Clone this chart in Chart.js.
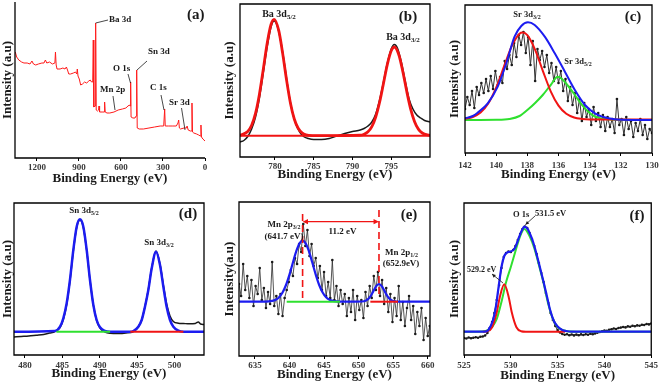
<!DOCTYPE html>
<html>
<head>
<meta charset="utf-8">
<script src="https://cdn.jsdelivr.net/npm/chart.js@4.4.1/dist/chart.umd.min.js"></script>
<style>
  body { margin: 0; background: #fff; }
  #fig { position: relative; width: 660px; height: 385px; }
  #fig canvas { position: absolute; }
</style>
</head>
<body>
<div id="fig">
  <canvas id="pa" width="215" height="190" style="left:0;top:0"></canvas>
  <canvas id="pb" width="225" height="190" style="left:215px;top:0"></canvas>
  <canvas id="pc" width="220" height="190" style="left:440px;top:0"></canvas>
  <canvas id="pd" width="215" height="195" style="left:0;top:190px"></canvas>
  <canvas id="pe" width="225" height="195" style="left:215px;top:190px"></canvas>
  <canvas id="pf" width="220" height="195" style="left:440px;top:190px"></canvas>
</div>
<script>
// ---- data: [binding energy (eV), intensity (a.u.)] ----

// (a) survey
const aSurvey = [[1355,106],[1345,101],[1330,98],[1310,96],[1293,95],[1270,95],[1250,94],[1236,97],[1225,94],[1209,93],[1190,94],[1165,95],[1150,95],[1140,98],[1130,95],[1110,96],[1090,94],[1072,95],[1068,106],[1063,93],[1057,89],[1035,89],[1015,90],[1000,89],[990,91],[982,88],[973,84],[960,84],[940,85],[925,86],[916,84],[912,89],[907,82],[898,79],[888,73],[875,74],[860,76],[845,75],[830,77],[820,78],[810,76],[802,76],[798,118],[794,51],[785,52],[781,135],[777,48],[768,47],[760,48],[757,52],[753,46],[735,46],[720,46],[717,56],[713,46],[700,45],[680,45],[650,46],[620,48],[590,49],[565,50],[550,52],[540,53],[535,52],[531,76],[528,41],[515,40],[500,40],[492,42],[488,88],[484,30],[470,29],[440,29],[400,30],[360,31],[320,32],[295,32],[288,49],[284,32],[260,32],[230,32],[205,32],[193,35],[188,38],[183,30],[175,29],[150,30],[132,30],[128,32],[120,28],[105,27],[97,27],[93,55],[89,26],[80,25],[60,24],[45,23],[33,22],[29,33],[25,21],[15,19],[0,17]];
const aTicks = [0, 300, 600, 900, 1200];

// (b) Ba 3d
const bData = [[775.5,15],[776,16.5],[776.5,20.5],[777,28],[777.5,40],[778,59],[778.5,84],[779,110],[779.5,130],[779.9,136],[780.3,131],[780.7,118],[781.2,95],[781.7,68],[782.2,47],[782.7,33],[783.2,25],[783.7,20.5],[784.3,18.5],[785,17.5],[786,17.5],[787,18.5],[788,21],[789,23.5],[790,25.5],[791,27],[791.5,28.5],[792,31],[792.5,35],[793,43],[793.5,57],[794,75],[794.5,94],[795,108],[795.4,112.5],[795.8,109],[796.3,95],[796.8,76],[797.3,58],[797.8,48],[798.3,42],[798.8,39],[799.3,36.5],[800,35]];
const bFit = [[775.5,21.8],[776.5,25.5],[777,31.7],[777.5,43.6],[778,62.6],[778.5,87.6],[779,113.6],[779.5,132.5],[779.9,137.7],[780.5,126.3],[781,103.6],[781.5,77.1],[782,54.1],[782.5,38],[783,28.7],[783.5,24.1],[784,22.2],[785,21.4],[786,21.3],[791,21.8],[791.5,22.8],[792,25.2],[792.5,30.4],[793,40],[793.5,54.7],[794,73.5],[794.5,92.6],[795,106.2],[795.4,110],[796,101.8],[796.5,85.3],[797,65.7],[797.5,48.2],[798,35.6],[798.5,27.9],[799,24],[800,21.6]];
const bBase = [[775.5,21.3],[800,21.3]];
const bTicks = [780, 785, 790, 795];

// (c) Sr 3d
const cData = [[142,44],[141.85,56],[141.7,48],[141.55,62],[141.4,45],[141.25,66],[141.1,58],[140.95,70],[140.8,60],[140.65,74],[140.5,62],[140.35,77],[140.2,64],[140.05,82],[139.9,68],[139.75,76],[139.6,70],[139.45,92],[139.3,84],[139.15,98],[139,88],[138.85,110],[138.7,96],[138.55,118],[138.4,108],[138.25,121],[138.1,100],[137.95,116],[137.8,88],[137.65,112],[137.5,72],[137.35,104],[137.2,93],[137.05,102],[136.9,86],[136.75,98],[136.6,80],[136.45,90],[136.3,72],[136.15,86],[136,70],[135.85,82],[135.7,62],[135.55,74],[135.4,52],[135.25,66],[135.1,48],[134.95,60],[134.8,40],[134.65,54],[134.5,32],[134.35,50],[134.2,36],[134.05,44],[133.9,28],[133.75,46],[133.6,32],[133.45,40],[133.3,26],[133.15,38],[133,22],[132.85,36],[132.7,26],[132.55,34],[132.4,20],[132.25,54],[132.1,28],[131.95,34],[131.8,18],[131.65,36],[131.5,24],[131.35,32],[131.2,16],[131.05,30],[130.9,22],[130.75,34],[130.6,18],[130.45,28],[130.3,14],[130.15,24],[130,20]];
const cBlue = [[142,34.7],[141.5,37],[141.19,40.3],[140.54,49.7],[139.9,66.3],[139.35,89.7],[138.82,116.3],[138.39,127],[137.96,130.7],[137.53,128],[136.88,116.3],[136.24,99.7],[135.59,81.3],[134.95,63],[134.3,48],[133.66,39.7],[132.8,34.7],[131.94,33.2],[130,33]];
const cRed = [[142,34.3],[141.5,36],[141,40.4],[140.5,49.7],[140,65.4],[139.5,86.3],[139,106.9],[138.5,119.3],[138.3,120.5],[138,117.8],[137.5,103.2],[137,81.9],[136.5,61.7],[136,47.4],[135.5,39.2],[135,35.5],[134.5,34.1],[134,33.6],[130,33.5]];
const cGreen = [[142,33],[140,33.2],[139.16,34],[138.5,37],[137.87,44.7],[137.5,50],[137.01,58],[136.5,68],[136.05,76.3],[135.81,74.5],[135.38,67],[134.95,58],[134.52,48.7],[134.09,41.3],[133.66,36.3],[133.01,34],[132,33.2],[130,33]];
const cTicks = [130, 132, 134, 136, 138, 140, 142];

// (d) Sn 3d
const dData = [[478.53,18],[479.5,18.5],[480.5,19],[481.5,19.8],[482.5,20.6],[483.3,22],[484.02,23.5],[484.69,27.5],[485.13,35.5],[485.58,50.5],[486.02,74],[486.47,104],[486.92,127.5],[487.36,135],[487.81,127.5],[488.26,104.5],[488.7,75],[489.15,50],[489.59,34.5],[490.04,27],[490.71,23],[491.38,21.8],[492.5,21.5],[493.5,22],[494.5,23.5],[495.17,28],[495.62,35],[496.06,48.5],[496.51,65.5],[496.96,87],[497.54,104],[498.07,91],[498.52,70],[498.96,51],[499.41,39],[499.86,33.5],[500.53,31.8],[501.2,31.5],[502,31.2],[502.8,31.6],[503.2,33],[503.5,31],[503.96,30.5]];
const dBlue = [[478.53,23.3],[484.02,24],[484.69,28.3],[485.13,36.7],[485.58,51.7],[486.02,75],[486.47,105],[486.92,128.3],[487.36,135.7],[487.81,128.3],[488.26,105],[488.7,75],[489.15,50],[489.59,35],[490.04,27.7],[490.71,24],[491.38,23.3],[494,23.3],[494.5,24],[495.17,28.3],[495.62,35],[496.06,48.3],[496.51,65],[496.96,86.7],[497.54,103.3],[498.07,90],[498.52,68.3],[498.96,48.3],[499.41,35],[499.86,28.3],[500.53,24.3],[501.2,23.3],[503.96,23.3]];
const dGreen = [[484.2,23.3],[491.4,23.3]];
const dRed = [[494.1,23.3],[501.2,23.3]];
const dTicks = [480, 485, 490, 495, 500];

// (e) Mn 2p
const eData = [[632.7,72],[633,60],[633.3,92],[633.6,66],[633.9,80],[634.2,58],[634.5,76],[634.8,50],[635.1,70],[635.4,62],[635.7,88],[636,56],[636.3,68],[636.6,48],[636.9,64],[637.2,52],[637.5,94],[637.8,50],[638.1,60],[638.4,42],[638.7,62],[639,40],[639.3,58],[639.6,66],[639.9,74],[640.2,86],[640.5,80],[640.8,98],[641.1,92],[641.4,112],[641.7,104],[642,132],[642.3,110],[642.6,126],[642.9,100],[643.2,112],[643.5,90],[643.8,98],[644.1,78],[644.4,90],[644.7,66],[645,84],[645.3,60],[645.6,74],[645.9,58],[646.2,96],[646.5,56],[646.8,70],[647.1,50],[647.4,66],[647.7,52],[648,62],[648.3,40],[648.6,58],[648.9,44],[649.2,66],[649.5,36],[649.8,60],[650.1,46],[650.4,56],[650.7,38],[651,64],[651.3,50],[651.6,70],[651.9,58],[652.2,80],[652.5,66],[652.8,84],[653.1,60],[653.4,76],[653.7,52],[654,68],[654.3,44],[654.6,62],[654.9,34],[655.2,58],[655.5,40],[655.8,70],[656.1,36],[656.4,54],[656.7,30],[657,48],[657.3,60],[657.6,36],[657.9,50],[658.2,22],[658.5,44],[658.8,30],[659.1,48],[659.4,16],[659.7,38],[660,20],[660.3,30]];
const eBlue = [[632.6,54.3],[636,54.3],[637,54.6],[637.5,55.1],[638,56.3],[638.5,58.8],[639,63.5],[639.5,71],[640,81.4],[640.5,93.5],[641,105.1],[641.5,113.1],[641.9,115.3],[642.3,113.1],[642.8,105.1],[643.3,93.5],[643.8,81.4],[644.3,71],[644.8,63.5],[645.3,58.8],[645.8,56.3],[646.3,55.1],[646.8,54.6],[647.8,54.3],[650.5,54.5],[651,55.2],[651.5,57.7],[652,63],[652.5,69.4],[652.95,72],[653.4,69.4],[653.9,63],[654.4,57.7],[654.9,55.2],[655.4,54.5],[656,54.3],[660.4,54.3]];
const eGreen = [[639.6,54.3],[647.3,54.3]];
const eRed = [[651.7,54.3],[655.7,54.3]];
const ePeaks = [641.9, 652.95];
const eTicks = [635, 640, 645, 650, 655, 660];

// (f) O 1s
const fData = [[525,17],[525.25,16.5],[525.5,17.5],[525.75,16.8],[526,17.2],[526.25,17.8],[526.5,17.3],[526.75,18.2],[527,18.5],[527.25,19.5],[527.5,22],[527.75,27],[528,33],[528.25,42],[528.5,55],[528.75,70],[529,87],[529.25,98],[529.5,102],[529.75,103.5],[530,103],[530.25,105],[530.5,109],[530.75,115],[531,121],[531.25,126],[531.5,128.5],[531.75,127],[532,122],[532.25,116],[532.5,109],[532.75,101],[533,92],[533.25,82],[533.5,73],[533.75,62],[534,52],[534.25,42],[534.5,35],[534.75,29],[535,25],[535.25,22.5],[535.5,21],[535.75,20.3],[536,20.8],[536.25,19.8],[536.5,20.5],[536.75,19.6],[537,20.4],[537.25,19.8],[537.5,20.6],[537.75,20],[538,20.8],[538.25,20.3],[538.5,21.2],[538.75,20.7],[539,21.6],[539.25,22.3],[539.5,23],[539.75,23.8],[540,24.5],[540.25,24.2],[540.5,25.3],[540.75,25.8],[541,26.5],[541.25,26],[541.5,27],[541.75,27.4],[542,28],[542.25,27.6],[542.5,28.6],[542.75,28.2],[543,29.2],[543.25,28.8],[543.5,29.6],[543.75,29.3],[544,30.2],[544.25,30],[544.5,31],[544.75,30.6],[545,31.5]];
const fBlue = [[525,23.3],[527.2,23.3],[527.6,25],[528.1,35],[528.4,48],[528.65,65],[529,88],[529.3,99],[529.6,102.5],[529.9,103.3],[530.2,104.5],[530.44,107],[530.7,113],[530.9,118.3],[531.2,125],[531.45,128.3],[531.8,126],[532.1,120],[532.4,112.5],[532.8,99],[533.1,88],[533.5,73],[533.9,57],[534.2,45],[534.6,34],[535,28.5],[535.5,25],[535.9,24],[536.5,23.3],[545,23.3]];
const fRed = [[527,23.3],[527.5,23.8],[528,27.8],[528.5,42.8],[528.8,56.8],[529.3,70.7],[529.8,56.8],[530.1,42.8],[530.6,27.8],[531.1,23.8],[531.6,23.3],[535.8,23.3]];
const fGreen = [[525,23.3],[527,23.5],[527.6,25],[528,28],[528.5,36],[529,53],[529.5,73],[530,88],[530.5,104],[531,119],[531.45,126],[532,119],[532.5,107],[533,90],[533.5,72],[534,51],[534.5,36],[535,28],[535.5,25],[536,23.8],[537,23.3],[545,23.3]];
const fTicks = [525, 530, 535, 540, 545];

// ---- drawing ----
const SERIF = '"Liberation Serif", "Times New Roman", serif';
const RED = '#f01414', BLUE = '#1c1cf0', GREEN = '#2fe02f', INK = '#1a1a1a';

function series(pairs, color, width, extra) {
  return Object.assign({
    data: pairs.map(p => ({ x: p[0], y: p[1] })),
    borderColor: color, backgroundColor: color, borderWidth: width,
    pointRadius: 0, tension: 0, fill: false
  }, extra || {});
}
const smooth = { cubicInterpolationMode: 'monotone' };
const dotted = { pointRadius: 1.3, pointBackgroundColor: INK, pointBorderWidth: 0 };

function txt(ctx, s, x, y, size, sub, align) {
  const subSize = Math.round(size * 0.65);
  ctx.font = `bold ${size}px ${SERIF}`;
  const w1 = ctx.measureText(s).width;
  let w2 = 0;
  if (sub) { ctx.font = `bold ${subSize}px ${SERIF}`; w2 = ctx.measureText(sub).width; }
  const x0 = align === 'center' ? x - (w1 + w2) / 2 : align === 'right' ? x - w1 - w2 : x;
  ctx.fillStyle = INK; ctx.textAlign = 'left'; ctx.textBaseline = 'middle';
  ctx.font = `bold ${size}px ${SERIF}`;
  ctx.fillText(s, x0, y);
  if (sub) { ctx.font = `bold ${subSize}px ${SERIF}`; ctx.fillText(sub, x0 + w1, y + size * 0.32); }
}

function seg(ctx, x1, y1, x2, y2, color, w) {
  ctx.strokeStyle = color || INK; ctx.lineWidth = w || 0.8;
  ctx.beginPath(); ctx.moveTo(x1, y1); ctx.lineTo(x2, y2); ctx.stroke();
}

function head(ctx, x1, y1, x2, y2, color, size) {
  const a = Math.atan2(y2 - y1, x2 - x1);
  ctx.fillStyle = color;
  ctx.beginPath();
  ctx.moveTo(x2, y2);
  ctx.lineTo(x2 - size * Math.cos(a - 0.45), y2 - size * Math.sin(a - 0.45));
  ctx.lineTo(x2 - size * Math.cos(a + 0.45), y2 - size * Math.sin(a + 0.45));
  ctx.closePath(); ctx.fill();
}

function panel(id, p) {
  const cv = document.getElementById(id);
  const W = cv.width, H = cv.height;
  const layers = p.layers; // bottom first
  new Chart(cv, {
    type: 'line',
    data: { datasets: layers.map((d, i) => Object.assign(d, { order: layers.length - i })) },
    options: {
      responsive: false, animation: false, events: [],
      layout: { padding: { top: p.top, right: W - p.right, bottom: 0, left: 0 } },
      plugins: { legend: { display: false }, tooltip: { enabled: false } },
      scales: {
        x: {
          type: 'linear', min: p.xmin, max: p.xmax, reverse: !!p.reverse,
          afterBuildTicks: s => { s.ticks = p.ticks.map(v => ({ value: v })); },
          afterFit: s => { s.height = H - p.bottom; },
          grid: { display: true, drawOnChartArea: false, drawTicks: true, tickLength: 3, color: '#000', lineWidth: 1 },
          border: { display: false },
          ticks: { callback: v => String(v), autoSkip: false, maxRotation: 0, padding: p.tickPad,
                   color: '#3a3a3a', font: { family: SERIF, size: 9, weight: 'bold' } },
          title: { display: true, text: 'Binding Energy (eV)', color: INK,
                   font: { family: SERIF, size: 13, weight: 'bold' }, padding: { top: 0, bottom: p.xTitlePad } }
        },
        y: {
          type: 'linear', min: 0, max: p.ymax,
          afterFit: s => { s.width = p.left; },
          grid: { display: false }, border: { display: false },
          ticks: { display: false },
          title: { display: true, text: p.yTitle || 'Intensity (a.u)', color: INK,
                   font: { family: SERIF, size: 13, weight: 'bold' }, padding: { top: p.yTitlePad, bottom: 0 } }
        }
      }
    },
    plugins: [{
      id: 'frame',
      afterDraw(chart) {
        const { ctx, chartArea: a } = chart;
        const X = v => chart.scales.x.getPixelForValue(v);
        const Y = v => chart.scales.y.getPixelForValue(v);
        ctx.save();
        ctx.strokeStyle = '#000'; ctx.lineWidth = 1.3;
        ctx.beginPath();
        if (p.open) {
          ctx.moveTo(a.left, a.top); ctx.lineTo(a.left, a.bottom); ctx.lineTo(a.right, a.bottom);
        } else {
          ctx.rect(a.left, a.top, a.right - a.left, a.bottom - a.top);
        }
        ctx.stroke();
        p.notes(ctx, X, Y);
        ctx.restore();
      }
    }]
  });
}

panel('pa', {
  xmin: 0, xmax: 1357, reverse: true, ymax: 156, ticks: aTicks,
  left: 15, top: 2, right: 205, bottom: 158, yTitlePad: 0, xTitlePad: 4, tickPad: 1, open: true,
  layers: [series(aSurvey, '#ff1a1a', 1)],
  notes(ctx, X, Y) {
    txt(ctx, '(a)', 187, 15, 15);
    txt(ctx, 'Ba 3d', 109, 20, 9);
    seg(ctx, X(781), Y(135), 108, 20);
    txt(ctx, 'O 1s', 113, 69, 9);
    seg(ctx, 128, 74, 130.5, 83);
    txt(ctx, 'Sn 3d', 148, 52, 9);
    seg(ctx, 147, 61, 137, 70);
    txt(ctx, 'Mn 2p', 100, 90, 9);
    seg(ctx, 113, 96, 115, 110);
    txt(ctx, 'C 1s', 150, 88, 9);
    seg(ctx, 161, 95, 164, 110);
    txt(ctx, 'Sr 3d', 169, 103, 9);
    seg(ctx, 181.5, 108, 185, 130);
  }
});

panel('pb', {
  xmin: 775.5, xmax: 800, ymax: 153, ticks: bTicks,
  left: 25, top: 4, right: 215, bottom: 157, yTitlePad: 7, xTitlePad: 8, tickPad: 1,
  layers: [series(bData, INK, 1.5, smooth), series(bBase, RED, 2), series(bFit, RED, 2.8, smooth)],
  notes(ctx) {
    txt(ctx, 'Ba 3d', 64, 14, 10, '5/2', 'center');
    txt(ctx, 'Ba 3d', 188, 37, 10, '3/2', 'center');
    txt(ctx, '(b)', 193, 17, 15, null, 'center');
  }
});

panel('pc', {
  xmin: 130, xmax: 142, reverse: true, ymax: 148, ticks: cTicks,
  left: 25, top: 5, right: 212, bottom: 153, yTitlePad: 7, xTitlePad: 8, tickPad: 4,
  layers: [series(cData, '#333', 1, dotted), series(cGreen, GREEN, 2, smooth),
           series(cRed, RED, 2, smooth), series(cBlue, BLUE, 2, smooth)],
  notes(ctx) {
    txt(ctx, 'Sr 3d', 87, 15, 8.5, '3/2', 'center');
    txt(ctx, 'Sr 3d', 138, 62, 8.5, '5/2', 'center');
    txt(ctx, '(c)', 193, 17, 15, null, 'center');
  }
});

panel('pd', {
  xmin: 478.53, xmax: 503.96, ymax: 152, ticks: dTicks,
  left: 14, top: 13, right: 204, bottom: 165, yTitlePad: 0, xTitlePad: 4, tickPad: 2,
  layers: [series(dData, INK, 1.5, smooth), series(dBlue, BLUE, 2.5, smooth),
           series(dGreen, GREEN, 2), series(dRed, RED, 2)],
  notes(ctx) {
    txt(ctx, 'Sn 3d', 84, 21, 9, '5/2', 'center');
    txt(ctx, 'Sn 3d', 159, 53, 9, '3/2', 'center');
    txt(ctx, '(d)', 188, 24, 15, null, 'center');
  }
});

panel('pe', {
  xmin: 632.7, xmax: 660.33, ymax: 154, ticks: eTicks, yTitle: 'Intensity(a.u)',
  left: 24, top: 12, right: 215, bottom: 166, yTitlePad: 7, xTitlePad: 3, tickPad: 1,
  layers: [series(eData, '#2a2a2a', 0.8, dotted), series(eBlue, BLUE, 2.2, smooth),
           series(eGreen, GREEN, 2), series(eRed, RED, 2)],
  notes(ctx, X, Y) {
    const x1 = X(ePeaks[0]), x2 = X(ePeaks[1]);
    ctx.setLineDash([7, 4]);
    seg(ctx, x1, 24, x1, Y(54.3), RED, 1.6);
    seg(ctx, x2, 20, x2, Y(59), RED, 1.6);
    ctx.setLineDash([]);
    seg(ctx, x1 + 4, 31.7, x2 - 4, 31.7, RED, 1.3);
    head(ctx, x2 - 4, 31.7, x1, 31.7, RED, 6);
    head(ctx, x1 + 4, 31.7, x2, 31.7, RED, 6);
    txt(ctx, 'Mn 2p', 69, 35, 9, '3/2', 'center');
    txt(ctx, '(641.7 eV)', 69, 46.5, 9, null, 'center');
    txt(ctx, '11.2 eV', 127.5, 41.5, 9, null, 'center');
    txt(ctx, 'Mn 2p', 186.5, 62.5, 9, '1/2', 'center');
    txt(ctx, '(652.9eV)', 186, 73.5, 9, null, 'center');
    txt(ctx, '(e)', 194, 25, 15, null, 'center');
  }
});

panel('pf', {
  xmin: 525, xmax: 545, ymax: 152, ticks: fTicks,
  left: 24, top: 13, right: 212, bottom: 165, yTitlePad: 7, xTitlePad: 2, tickPad: 2,
  layers: [series(fData, INK, 1, dotted), series(fGreen, GREEN, 2, smooth),
           series(fRed, RED, 2, smooth), series(fBlue, BLUE, 2.2, smooth)],
  notes(ctx, X, Y) {
    txt(ctx, 'O 1s', 73, 25, 8.5);
    txt(ctx, '531.5 eV', 95, 24, 8.5);
    seg(ctx, 95, 26, X(531.45) + 1, Y(128.3) - 2);
    head(ctx, 95, 26, X(531.45) + 1, Y(128.3) - 2, INK, 4);
    txt(ctx, '529.2 eV', 27, 80, 8);
    seg(ctx, 63, 93, 52, 84);
    head(ctx, 63, 93, 52, 84, INK, 4);
    txt(ctx, '(f)', 197, 26, 15, null, 'center');
  }
});
</script>
</body>
</html>
